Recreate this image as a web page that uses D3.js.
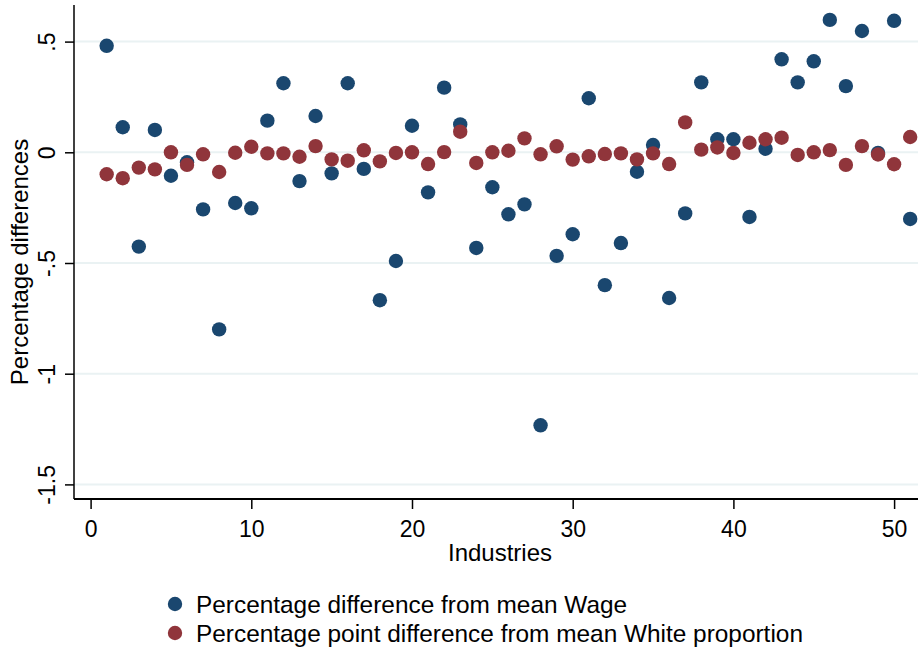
<!DOCTYPE html>
<html>
<head>
<meta charset="utf-8">
<script src="https://cdn.jsdelivr.net/npm/d3@7"></script>
<style>
  body { margin: 0; background: #fff; }
  text { font-family: Arial, "Liberation Sans", sans-serif; fill: #000; }
</style>
</head>
<body>
<div id="chart"></div>
<script>
//Data: industries 1..51
let industries = d3.range(1, 52);
let wageDiff = [0.481, 0.113, -0.426, 0.101, -0.106, -0.045, -0.258, -0.800, -0.229, -0.253,
    0.143, 0.312, -0.130, 0.164, -0.095, 0.312, -0.075, -0.668, -0.491, 0.120,
    -0.181, 0.292, 0.126, -0.432, -0.158, -0.280, -0.235, -1.233, -0.468, -0.370,
    0.244, -0.600, -0.410, -0.088, 0.033, -0.658, -0.276, 0.316, 0.059, 0.059,
    -0.292, 0.016, 0.420, 0.316, 0.411, 0.598, 0.299, 0.548, -0.003, 0.594, -0.301];
let whiteDiff = [-0.099, -0.117, -0.069, -0.077, 0.000, -0.057, -0.009, -0.089, -0.002, 0.025,
    -0.005, -0.005, -0.020, 0.028, -0.032, -0.038, 0.009, -0.041, -0.003, 0.000,
    -0.053, 0.001, 0.093, -0.048, 0.000, 0.007, 0.063, -0.009, 0.027, -0.033,
    -0.018, -0.008, -0.005, -0.032, -0.005, -0.053, 0.135, 0.012, 0.022, -0.003,
    0.043, 0.059, 0.066, -0.012, 0.000, 0.010, -0.057, 0.028, -0.010, -0.054, 0.069];
let xTicks = [0, 10, 20, 30, 40, 50];
let yTicks = [0.5, 0, -0.5, -1, -1.5];
let yTickLabels = [".5", "0", "-.5", "-1", "-1.5"];
let seriesNames = ["Percentage difference from mean Wage", "Percentage point difference from mean White proportion"];
let seriesColors = ["#1a476f", "#90353b"];

//Plot region inside the 918x652 page
let svgWidth = 918;
let svgHeight = 652;
let plot = { left: 74, right: 918, top: 5, bottom: 499 };

let x = d3.scaleLinear().domain([0, 50]).range([90.6, 894.1]);
let y = d3.scaleLinear().domain([0.5, -1.5]).range([41.6, 484.4]);

let svg = d3.select("#chart")
    .append("svg")
    .attr("width", svgWidth)
    .attr("height", svgHeight);

//Grid lines
svg.append("g")
    .selectAll("line")
    .data(yTicks)
    .enter()
    .append("line")
    .attr("x1", plot.left)
    .attr("x2", plot.right)
    .attr("y1", function(d) { return y(d) })
    .attr("y2", function(d) { return y(d) })
    .style("stroke", "#eaf2f3")
    .style("stroke-width", 2);

//Y axis
let yAxis = d3.axisLeft(y)
    .tickValues(yTicks)
    .tickSize(9)
    .tickFormat(function(d, i) { return yTickLabels[i] });

let yg = svg.append("g")
    .attr("transform", "translate(" + plot.left + ",0)")
    .call(yAxis);
yg.select(".domain").attr("d", "M0," + plot.top + "V" + plot.bottom);
yg.selectAll("line").style("stroke-width", 1.5);
yg.select(".domain").style("stroke-width", 1.5);
//tick g is already moved to y(d), so only shift left and turn the label
yg.selectAll("text")
    .attr("x", null).attr("dy", null)
    .attr("transform", "translate(-19,0) rotate(-90)")
    .attr("y", 0)
    .style("text-anchor", "middle")
    .style("font-size", "23px")
    .attr("fill", "#000");

//X axis
let xAxis = d3.axisBottom(x)
    .tickValues(xTicks)
    .tickSize(10)
    .tickFormat(d3.format("d"));

let xg = svg.append("g")
    .attr("transform", "translate(0," + plot.bottom + ")")
    .call(xAxis);
xg.select(".domain").attr("d", "M" + plot.left + ",0H" + plot.right).style("stroke-width", 2);
xg.selectAll("line").style("stroke-width", 1.5);
xg.selectAll("text")
    .attr("y", 0).attr("dy", "38px")
    .style("font-size", "23px")
    .attr("fill", "#000");

//Axis titles
svg.append("text")
    .attr("transform", "translate(28,262) rotate(-90)")
    .style("text-anchor", "middle")
    .style("font-size", "24px")
    .text("Percentage differences");

svg.append("text")
    .attr("x", 500)
    .attr("y", 561)
    .style("text-anchor", "middle")
    .style("font-size", "24px")
    .text("Industries");

//Draw both series, wage first so white proportion sits on top
let seriesData = [wageDiff, whiteDiff];
seriesData.forEach(function(values, s) {
    svg.append("g")
        .selectAll("circle")
        .data(industries)
        .enter()
        .append("circle")
        .attr("cx", function(d) { return x(d) })
        .attr("cy", function(d, i) { return y(values[i]) })
        .attr("r", 7.2)
        .style("fill", seriesColors[s]);
});

//Legend
let legend = svg.append("g")
    .selectAll("g")
    .data(seriesNames)
    .enter()
    .append("g")
    .attr("transform", function(d, i) { return "translate(175," + (604 + i * 29) + ")" });
legend.append("circle")
    .attr("r", 7.2)
    .style("fill", function(d, i) { return seriesColors[i] });
legend.append("text")
    .attr("x", 21)
    .attr("dy", "0.36em")
    .style("font-size", "24.4px")
    .text(function(d) { return d });
</script>
</body>
</html>
